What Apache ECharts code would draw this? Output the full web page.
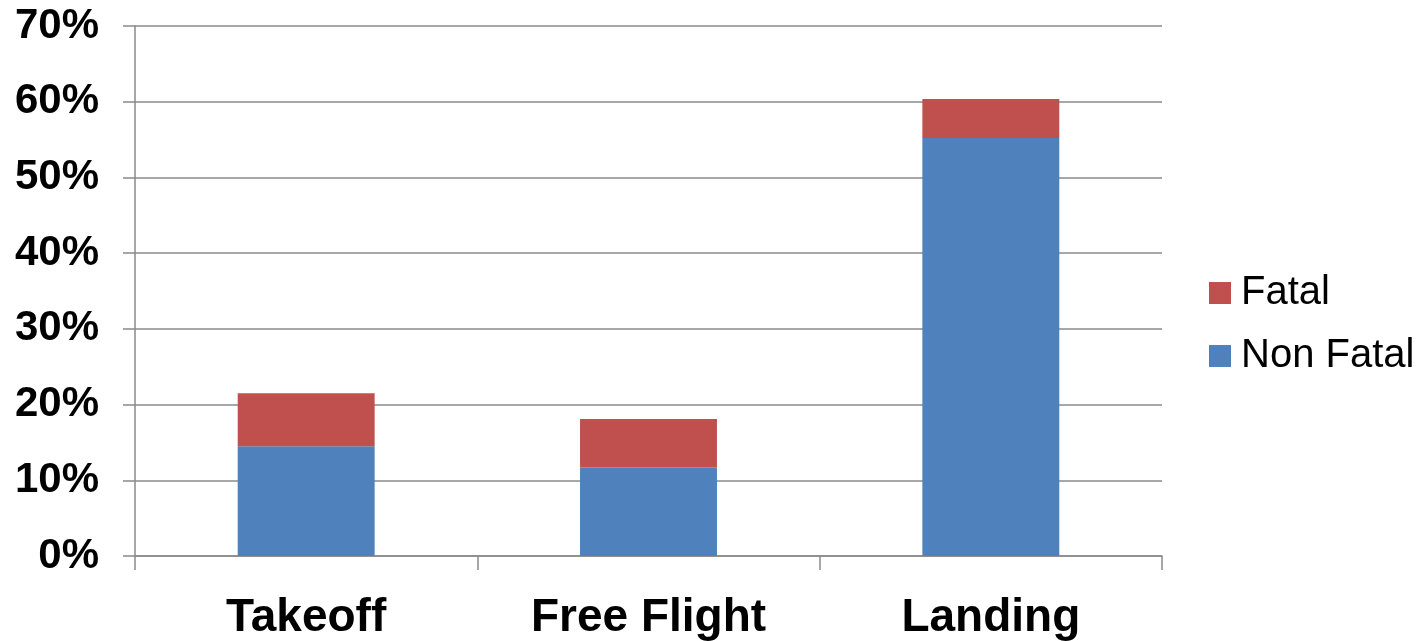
<!DOCTYPE html>
<html>
<head>
<meta charset="utf-8">
<script src="https://cdn.jsdelivr.net/npm/echarts@6/dist/echarts.min.js"></script>
<style>html,body{margin:0;padding:0;background:#fff;}#c{width:1428px;height:641px;}</style>
</head>
<body>
<div id="c"></div>
<script>
const categories = ['Takeoff', 'Free Flight', 'Landing'];
const nonFatal = [14.5, 11.7, 55.2];
const fatal = [7.0, 6.4, 5.15];
const yTicks = [0, 10, 20, 30, 40, 50, 60, 70];

const chart = echarts.init(document.getElementById('c'), null, {renderer: 'canvas'});
const gray = '#8a8a8a';
chart.setOption({
  animation: false,
  grid: {left: 135, right: 266, top: 26, bottom: 83, containLabel: false},
  legend: {
    orient: 'vertical',
    left: 1209,
    top: 273,
    padding: 0,
    itemWidth: 22,
    itemHeight: 22,
    itemGap: 23,
    icon: 'rect',
    data: ['Fatal', 'Non Fatal'],
    textStyle: {fontFamily: 'Liberation Sans, Arial, sans-serif', fontSize: 40, color: '#000', padding: [0, 0, 0, 5]}
  },
  xAxis: {
    type: 'category',
    data: categories,
    axisLine: {show: true, lineStyle: {color: gray, width: 1.5}},
    axisTick: {show: true, length: 14, alignWithLabel: false, lineStyle: {color: gray, width: 1.5}},
    axisLabel: {fontFamily: 'Liberation Sans, Arial, sans-serif', fontSize: 46, fontWeight: 'bold', color: '#000', margin: 39}
  },
  yAxis: {
    type: 'value',
    min: 0,
    max: 70,
    interval: 10,
    axisLine: {show: true, lineStyle: {color: gray, width: 1.5}},
    axisTick: {show: true, length: 12, lineStyle: {color: gray, width: 1.5}},
    splitLine: {show: true, lineStyle: {color: gray, width: 1.5}},
    axisLabel: {
      fontFamily: 'Liberation Sans, Arial, sans-serif', fontSize: 42, fontWeight: 'bold', color: '#000', margin: 36,
      formatter: function (v) { return yTicks.indexOf(v) >= 0 ? v + '%' : ''; }
    }
  },
  series: [
    {name: 'Non Fatal', type: 'bar', stack: 'total', data: nonFatal, barWidth: '40%', itemStyle: {color: '#4F81BD'}},
    {name: 'Fatal', type: 'bar', stack: 'total', data: fatal, barWidth: '40%', itemStyle: {color: '#C0504D'}}
  ]
});
</script>
</body>
</html>
